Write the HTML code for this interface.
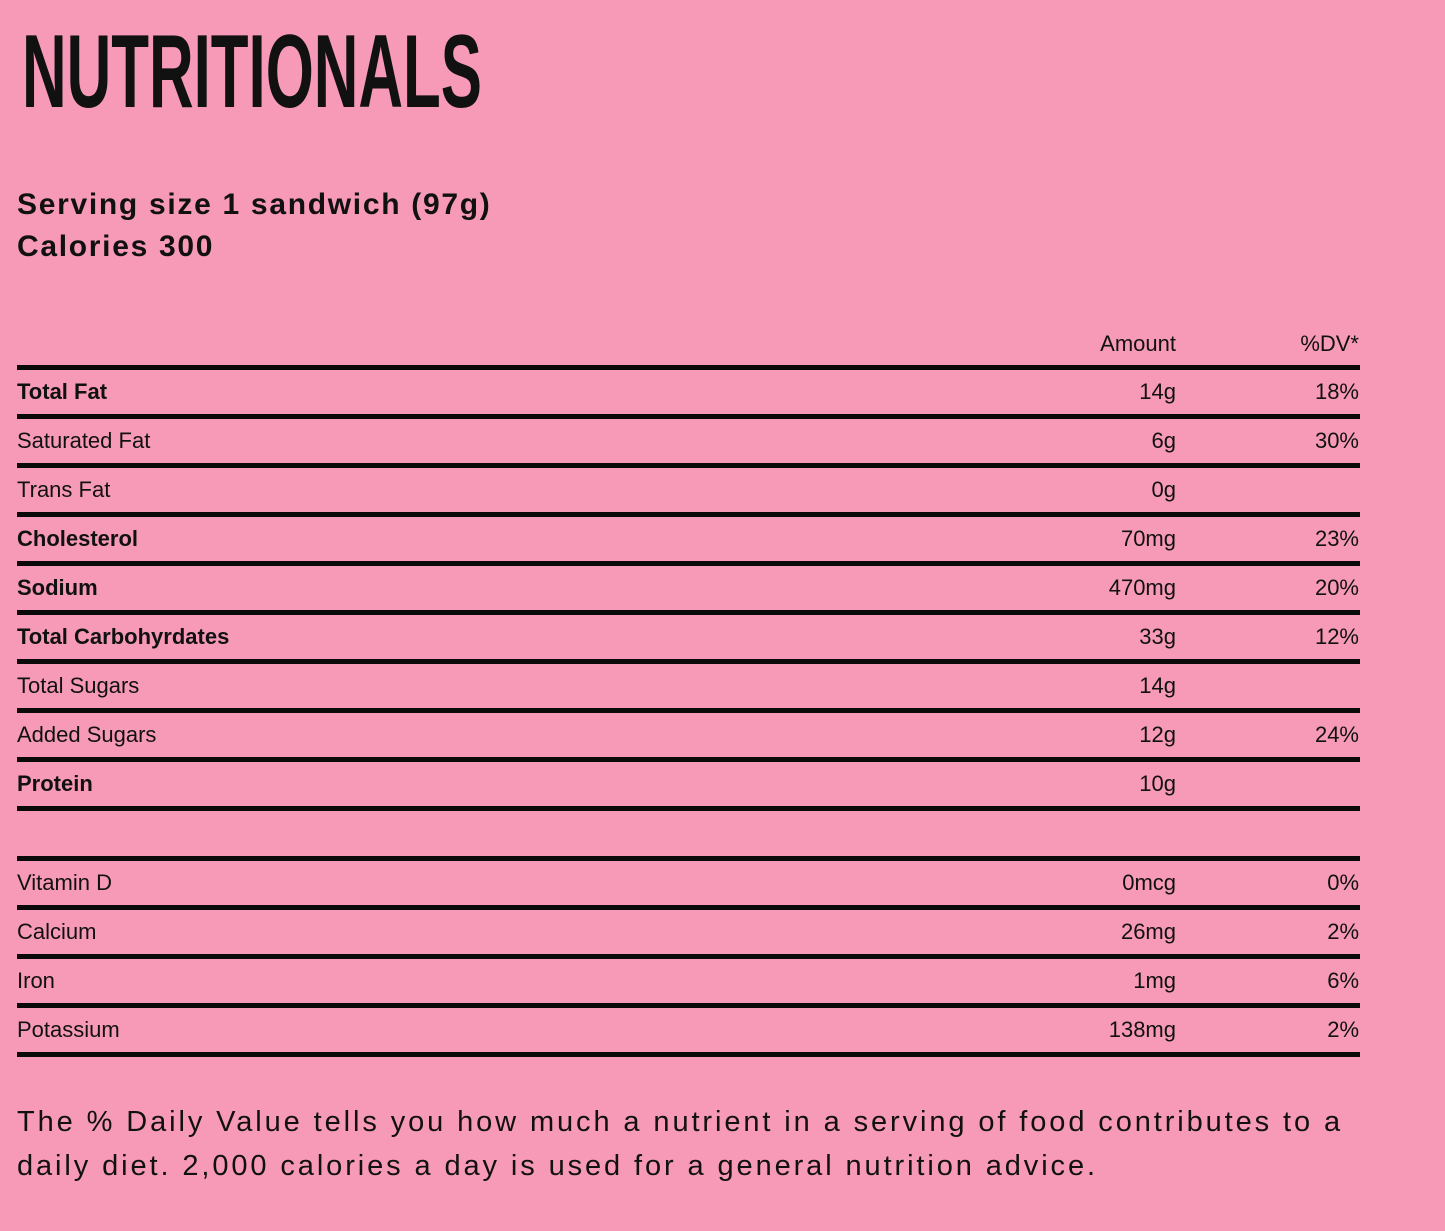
<!DOCTYPE html>
<html><head><meta charset="utf-8"><style>
body{margin:0;width:1445px;height:1231px;background:#F79AB8;position:relative;overflow:hidden;font-family:"Liberation Sans",sans-serif;color:#111}
.l{position:absolute;left:17px;width:1343px;height:5px;background:#0a0a0a}
.t{position:absolute;font-size:22px;line-height:24px;white-space:nowrap}
.a{position:absolute;right:269px;font-size:22px;line-height:24px;text-align:right}
.d{position:absolute;right:86px;font-size:22px;line-height:24px;text-align:right}
.b{font-weight:bold}
</style></head><body>
<svg style="position:absolute;left:0;top:0" width="500" height="130"><text x="22" y="107" font-family="Liberation Sans Narrow, Liberation Sans, sans-serif" font-weight="bold" font-size="104" textLength="460" lengthAdjust="spacingAndGlyphs" fill="#111">NUTRITIONALS</text></svg>
<div style="position:absolute;left:17px;top:184px;font-size:30px;font-weight:bold;letter-spacing:1.7px;line-height:42px">Serving size 1 sandwich (97g)<br>Calories 300</div>
<div class="a" style="top:332px">Amount</div><div class="d" style="top:332px">%DV*</div>
<div class="l" style="top:365px"></div>
<div class="t b" style="left:17px;top:380px">Total Fat</div><div class="a" style="top:380px">14g</div><div class="d" style="top:380px">18%</div>
<div class="l" style="top:414px"></div>
<div class="t" style="left:17px;top:429px">Saturated Fat</div><div class="a" style="top:429px">6g</div><div class="d" style="top:429px">30%</div>
<div class="l" style="top:463px"></div>
<div class="t" style="left:17px;top:478px">Trans Fat</div><div class="a" style="top:478px">0g</div>
<div class="l" style="top:512px"></div>
<div class="t b" style="left:17px;top:527px">Cholesterol</div><div class="a" style="top:527px">70mg</div><div class="d" style="top:527px">23%</div>
<div class="l" style="top:561px"></div>
<div class="t b" style="left:17px;top:576px">Sodium</div><div class="a" style="top:576px">470mg</div><div class="d" style="top:576px">20%</div>
<div class="l" style="top:610px"></div>
<div class="t b" style="left:17px;top:625px">Total Carbohyrdates</div><div class="a" style="top:625px">33g</div><div class="d" style="top:625px">12%</div>
<div class="l" style="top:659px"></div>
<div class="t" style="left:17px;top:674px">Total Sugars</div><div class="a" style="top:674px">14g</div>
<div class="l" style="top:708px"></div>
<div class="t" style="left:17px;top:723px">Added Sugars</div><div class="a" style="top:723px">12g</div><div class="d" style="top:723px">24%</div>
<div class="l" style="top:757px"></div>
<div class="t b" style="left:17px;top:772px">Protein</div><div class="a" style="top:772px">10g</div>
<div class="l" style="top:806px"></div>
<div class="l" style="top:856px"></div>
<div class="t" style="left:17px;top:871px">Vitamin D</div><div class="a" style="top:871px">0mcg</div><div class="d" style="top:871px">0%</div>
<div class="l" style="top:905px"></div>
<div class="t" style="left:17px;top:920px">Calcium</div><div class="a" style="top:920px">26mg</div><div class="d" style="top:920px">2%</div>
<div class="l" style="top:954px"></div>
<div class="t" style="left:17px;top:969px">Iron</div><div class="a" style="top:969px">1mg</div><div class="d" style="top:969px">6%</div>
<div class="l" style="top:1003px"></div>
<div class="t" style="left:17px;top:1018px">Potassium</div><div class="a" style="top:1018px">138mg</div><div class="d" style="top:1018px">2%</div>
<div class="l" style="top:1052px"></div>
<div style="position:absolute;left:17px;top:1100px;font-size:29px;line-height:44px;letter-spacing:2.9px;width:1420px;white-space:nowrap">The % Daily Value tells you how much a nutrient in a serving of food contributes to a<br>daily diet. 2,000 calories a day is used for a general nutrition advice.</div>
</body></html>
